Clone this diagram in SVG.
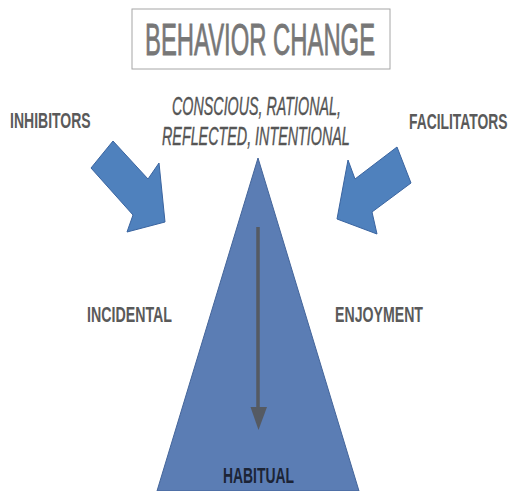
<svg xmlns="http://www.w3.org/2000/svg" width="511" height="491" viewBox="0 0 511 491">
<style>
  .lbl { font-family: "Liberation Sans", Arial, sans-serif; font-weight: bold; font-size: 22px; fill: #5a5a5a; }
  .ital { font-family: "Liberation Sans", Arial, sans-serif; font-style: italic; font-size: 25px; fill: #555555; stroke: #555555; stroke-width: 0.4; }
  .blk { fill: #4f81bd; stroke: #3a64a0; stroke-width: 1; stroke-linejoin: round; }
</style>
<rect width="511" height="491" fill="#ffffff"/>

<g id="title">
  <rect x="132" y="9" width="258" height="60" fill="#ffffff" stroke="#a6a6a6" stroke-width="1"/>
  <text transform="translate(145,55) scale(0.542,1)" x="0" y="0" font-family="Liberation Sans, Arial, sans-serif" font-size="44" fill="#777777" stroke="#777777" stroke-width="0.8">BEHAVIOR CHANGE</text>
</g>

<g id="triangle">
  <polygon points="258,158 359,491 157,491" fill="#5b7db4" stroke="#44659a" stroke-width="1"/>
</g>

<g id="connectors">
  <line x1="258" y1="227" x2="258" y2="408" stroke="#555a62" stroke-width="3.5"/>
  <polygon points="250.5,407 267,407 258.5,430" fill="#555a62"/>
</g>

<g id="inhibitors-arrow">
  <polygon class="blk" points="113,141 148,179 159,163 165,222 127,232 133,215 91,168"/>
</g>
<g id="facilitators-arrow">
  <polygon class="blk" points="397,147 411,183 372,212 377,234 337,219 348,160 355,179"/>
</g>

<g id="top-label">
  <text class="ital" transform="translate(172,115) scale(0.572,1)" x="0" y="0">CONSCIOUS, RATIONAL,</text>
  <text class="ital" transform="translate(162,145) scale(0.5735,1)" x="0" y="0">REFLECTED, INTENTIONAL</text>
</g>
<g id="inhibitors">
  <text class="lbl" transform="translate(10,128) scale(0.637,1)" x="0" y="0">INHIBITORS</text>
</g>
<g id="facilitators">
  <text class="lbl" transform="translate(409,129) scale(0.63,1)" x="0" y="0">FACILITATORS</text>
</g>
<g id="incidental">
  <text class="lbl" transform="translate(87,322) scale(0.646,1)" x="0" y="0">INCIDENTAL</text>
</g>
<g id="enjoyment">
  <text class="lbl" transform="translate(335,322) scale(0.643,1)" x="0" y="0">ENJOYMENT</text>
</g>
<g id="habitual">
  <text class="lbl" transform="translate(223,483) scale(0.632,1)" x="0" y="0" style="fill:#1c2436">HABITUAL</text>
</g>
</svg>
